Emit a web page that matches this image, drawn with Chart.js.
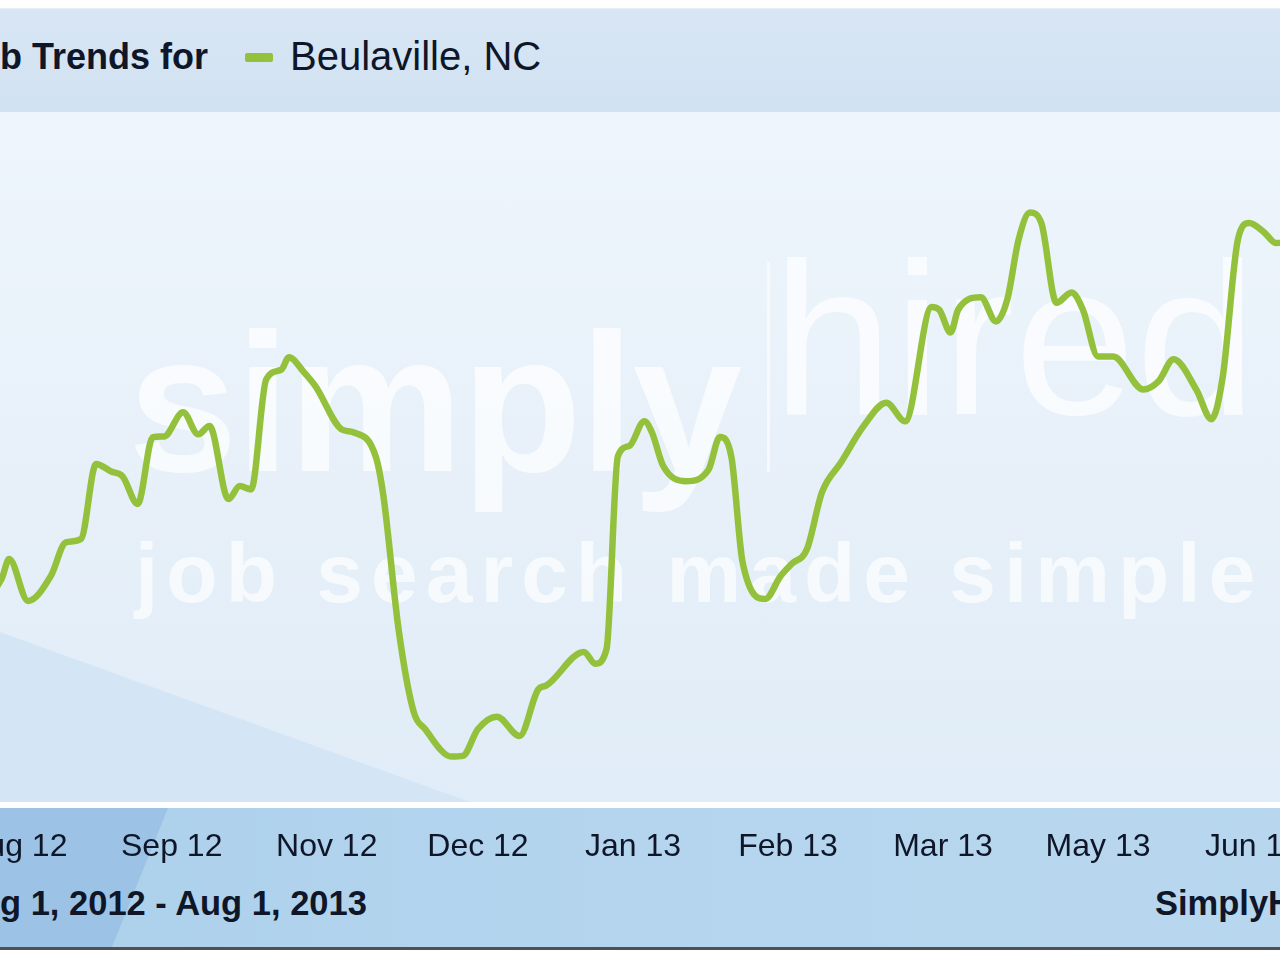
<!DOCTYPE html>
<html>
<head>
<meta charset="utf-8">
<script src="https://cdn.jsdelivr.net/npm/chart.js@4.4.0/dist/chart.umd.min.js"></script>
<style>
  html, body { margin: 0; padding: 0; width: 1280px; height: 960px; overflow: hidden; background: #fff; }
  body { position: relative; font-family: "Liberation Sans", Arial, sans-serif; color: #0e1628; }
  .abs { position: absolute; }
  #head { left: 0; top: 8px; width: 1280px; height: 103px; background: linear-gradient(180deg, #d8e6f4 0%, #d1e2f2 100%); border-top: 1px solid #e6eef7; }
  #plotbg { left: 0; top: 112px; width: 1280px; height: 690px; background: linear-gradient(180deg, #eef5fc 0%, #e7f0f9 55%, #e0ecf7 100%); }
  #plotshade { left: 0; top: 112px; width: 1280px; height: 690px; background: #d4e6f6; clip-path: polygon(0 520px, 470px 690px, 0 690px); }
  #axisbg { left: 0; top: 808px; width: 1280px; height: 139px; background: linear-gradient(90deg, #acd0eb 0%, #b5d5ee 50%, #b8d7ef 100%); }
  #axisshade { left: 0; top: 808px; width: 1280px; height: 139px; background: #9cc3e6; clip-path: polygon(0 0, 168px 0, 112px 139px, 0 139px); }
  #rule { left: 0; top: 947px; width: 1280px; height: 3px; background: #505050; }
  .wm { color: rgba(255,255,255,0.7); white-space: nowrap; line-height: 1; }
  #wm1 { left: 128px; top: 305px; font-size: 197px; font-weight: bold; letter-spacing: -2px; }
  #wm2 { left: 772px; top: 230px; font-size: 218px; }
  #wmbar { left: 767px; top: 262px; width: 3px; height: 210px; background: rgba(255,255,255,0.6); }
  #wm3 { left: 135px; top: 531px; font-size: 84px; font-weight: bold; letter-spacing: 8px; }
  .txt { white-space: nowrap; line-height: 40px; }
  #title { left: -42px; top: 37px; font-size: 36px; font-weight: bold; }
  #legkey { left: 245px; top: 53px; width: 28px; height: 9px; background: #94c13c; border-radius: 2px; }
  #legtxt { left: 290px; top: 36px; font-size: 40px; }
  #range { left: -46px; top: 883px; font-size: 34.5px; font-weight: bold; }
  #brand { left: 1155px; top: 883px; font-size: 34.5px; font-weight: bold; }
  #wrap { left: -40px; top: 110px; width: 1380px; height: 785px; }
</style>
</head>
<body>
<div id="head" class="abs"></div>
<div id="plotbg" class="abs"></div>
<div id="plotshade" class="abs"></div>
<div id="axisbg" class="abs"></div>
<div id="axisshade" class="abs"></div>
<div id="rule" class="abs"></div>

<div id="wm1" class="abs wm">simply</div>
<div id="wmbar" class="abs"></div>
<div id="wm2" class="abs wm">hired</div>
<div id="wm3" class="abs wm">job search made simple</div>

<div id="title" class="abs txt">Job Trends for</div>
<div id="legkey" class="abs"></div>
<div id="legtxt" class="abs txt">Beulaville, NC</div>
<div id="range" class="abs txt">Aug 1, 2012 - Aug 1, 2013</div>
<div id="brand" class="abs txt">SimplyHired.com</div>

<div id="wrap" class="abs"><canvas id="chart"></canvas></div>

<script>
// x axis: days since Aug 1, 2012
const tickDays = [15, 56, 97, 137, 178, 219, 260, 301, 342];
const tickLabels = ["Aug 12", "Sep 12", "Nov 12", "Dec 12", "Jan 13", "Feb 13", "Mar 13", "May 13", "Jun 13"];

const days = [
  3, 11, 13, 18, 24, 28, 32, 36, 40, 43,
  47, 51, 54, 59, 63, 66, 71, 74, 77, 81,
  85, 87, 91, 94, 101, 104, 110, 112, 116, 120,
  123, 130, 133, 137, 142, 148, 153, 155, 165, 168,
  171, 174, 177, 181, 183, 186, 192, 198, 201, 204,
  207, 213, 217, 220, 224, 228, 233, 239, 245, 250,
  257, 259, 262, 264, 270, 274, 277, 280, 283, 286,
  290, 294, 297, 301, 305, 313, 317, 321, 327, 331,
  334, 338, 341, 345, 348, 357
];
// relative job postings level (axis not shown in original)
const jobIndex = [
  26.8, 31.9, 34.8, 28.7, 32.3, 37.2, 37.7, 48.6, 47.5, 46.8,
  42.8, 52.5, 52.6, 56.1, 52.9, 54.1, 43.5, 45.4, 44.9, 60.9,
  62.3, 64.1, 61.9, 59.9, 53.6, 53.2, 49.6, 43.9, 24.6, 12.6,
  10.1, 6.1, 6.2, 10.1, 11.9, 9.1, 15.9, 16.4, 21.3, 19.6,
  21.7, 49.7, 51.2, 54.8, 53.2, 48.3, 46.1, 47.8, 52.5, 49.7,
  34.3, 29.0, 32.3, 34.1, 36.2, 44.5, 48.8, 54.1, 57.5, 54.8,
  71.4, 71.0, 67.7, 71.0, 72.8, 69.3, 72.5, 81.2, 85.1, 83.6,
  72.0, 73.5, 71.0, 64.2, 64.2, 59.4, 60.6, 63.8, 59.4, 55.1,
  61.3, 81.2, 83.6, 82.2, 80.7, 81.2
];

const lineGreen = "#94c13c";

new Chart(document.getElementById("chart"), {
  type: "line",
  data: {
    datasets: [{
      label: "Beulaville, NC",
      data: days.map((d, i) => ({ x: d, y: jobIndex[i] })),
      borderColor: lineGreen,
      borderWidth: 6.5,
      pointRadius: 0,
      fill: false,
      cubicInterpolationMode: "monotone",
      borderCapStyle: "round",
      borderJoinStyle: "round"
    }]
  },
  options: {
    animation: false,
    responsive: true,
    maintainAspectRatio: false,
    layout: { padding: 0 },
    plugins: { legend: { display: false }, tooltip: { enabled: false } },
    scales: {
      x: {
        type: "linear",
        min: 0,
        max: 365,
        grid: { display: false, drawTicks: false },
        border: { display: false },
        afterBuildTicks: s => { s.ticks = tickDays.map(v => ({ value: v })); },
        // keep the plot edge-to-edge, labels may hang over
        afterFit: s => { s.paddingLeft = 0; s.paddingRight = 0; },
        ticks: {
          autoSkip: false,
          maxRotation: 0,
          padding: 29,
          color: "#0e1628",
          font: { family: "Liberation Sans", size: 32 },
          callback: (v, i) => tickLabels[i]
        }
      },
      y: { display: false, min: 0, max: 100 }
    }
  }
});
</script>
</body>
</html>
